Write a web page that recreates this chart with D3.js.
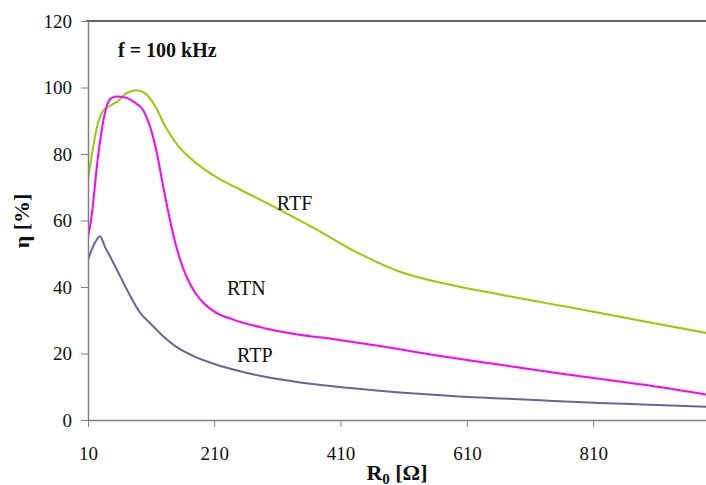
<!DOCTYPE html>
<html lang="en">
<head>
    <meta charset="UTF-8">
    <title>Efficiency vs R0</title>
    <script src="https://d3js.org/d3.v7.min.js"></script>
    <style>
        body { margin: 0; background: #fff; }
        svg text { font-family: "Liberation Serif", "Times New Roman", Tinos, "DejaVu Serif", "Noto Serif", serif !important; fill: #111; }
    </style>
</head>
<body>
<script>

    const width = 706;
    const height = 485;
    const margin = {top: 21, left: 88};

    // data (R0 in ohm, eta in %)
    const rtfR   = [10, 26, 34, 45, 58, 71, 87, 100, 116, 132, 153, 174, 195, 220, 250, 310, 370, 425, 504, 580, 663, 740, 821, 900, 1000];
    const rtfEta = [72.4, 89.4, 93, 94.5, 96, 98.3, 99.2, 98.3, 94.5, 88.4, 82.4, 78.4, 75.3, 72.3, 69.4, 63.6, 57.5, 51.5, 44.6, 40.8, 37.7, 35, 32.2, 29.3, 25.8];

    const rtnR   = [10, 15, 26, 37, 45, 55, 69, 84, 98, 108, 119, 129, 140, 150, 160, 170, 180, 195, 210, 240, 290, 340, 400, 480, 560, 663, 760, 840, 920, 1000];
    const rtnEta = [55, 60.3, 79.4, 92.5, 96.5, 97.3, 97, 95.5, 93, 88.4, 80.4, 70.3, 60, 52, 46, 41.5, 38.2, 34.8, 32.6, 30.2, 27.6, 25.8, 24.3, 22, 19.5, 16.6, 13.9, 11.9, 9.8, 7.3];

    const rtpR   = [10, 20, 29, 37, 45, 61, 75, 92, 110, 124, 150, 180, 203, 240, 282, 346, 420, 504, 580, 663, 740, 821, 900, 1000];
    const rtpEta = [48.2, 53, 55.3, 52, 49.2, 43.2, 38, 32.4, 28.8, 26.1, 22, 19, 17.3, 15.2, 13.3, 11.3, 9.7, 8.3, 7.3, 6.5, 5.8, 5.1, 4.6, 3.9];

    const seriesNames = ["RTF", "RTN", "RTP"];
    const seriesColors = ["#99cc00", "#ff00ff", "#666699"];
    // where each series name sits, in data units (R0, eta)
    const labelR = [309, 230, 246];
    const labelEta = [63.3, 37.7, 17.5];

    const xTicks = [10, 210, 410, 610, 810];
    const yTicks = [0, 20, 40, 60, 80, 100, 120];

    const series = [
        {name: "RTF", r: rtfR, eta: rtfEta, color: seriesColors[0]},
        {name: "RTN", r: rtnR, eta: rtnEta, color: seriesColors[1]},
        {name: "RTP", r: rtpR, eta: rtpEta, color: seriesColors[2]}
    ];

    const x = d3.scaleLinear().domain([10, 1000]).range([margin.left, margin.left + 990 * 0.6315]);
    const y = d3.scaleLinear().domain([0, 120]).range([420, margin.top]);

    const svg = d3.select("body").append("svg")
        .attr("width", width).attr("height", height);

    svg.append("defs").append("clipPath").attr("id", "plot")
        .append("rect")
        .attr("x", margin.left).attr("y", margin.top)
        .attr("width", width - margin.left).attr("height", 420 - margin.top);

    // top border of the plot box
    svg.append("line")
        .attr("x1", margin.left - 2).attr("x2", width)
        .attr("y1", y(120)).attr("y2", y(120))
        .attr("stroke", "#333").attr("stroke-width", 1.5);

    // curves
    const line = d3.line()
        .x(d => x(d[0]))
        .y(d => y(d[1]))
        .curve(d3.curveMonotoneX);

    svg.append("g").attr("clip-path", "url(#plot)")
        .selectAll("path")
        .data(series)
        .join("path")
        .attr("d", s => line(s.r.map((r, i) => [r, s.eta[i]])))
        .attr("fill", "none")
        .attr("stroke", s => s.color)
        .attr("stroke-width", 2);

    // y axis
    const yAxis = svg.append("g")
        .attr("transform", `translate(${margin.left},0)`)
        .call(d3.axisLeft(y).tickValues(yTicks).tickSize(7).tickSizeOuter(0).tickPadding(9));
    yAxis.select(".domain").attr("stroke", "#808080").attr("stroke-width", 1.5);
    yAxis.selectAll(".tick line").attr("stroke", "#808080");

    // x axis
    const xAxis = svg.append("g")
        .attr("transform", `translate(0,${y(0)})`)
        .call(d3.axisBottom(x).tickValues(xTicks).tickSize(7).tickSizeOuter(0).tickPadding(20));
    xAxis.select(".domain").attr("stroke", "#808080").attr("stroke-width", 1.5);
    xAxis.selectAll(".tick line").attr("stroke", "#808080");
    svg.selectAll(".tick text").style("font-size", "19px");

    // series labels
    svg.selectAll("text.lbl")
        .data(seriesNames)
        .join("text")
        .attr("class", "lbl")
        .attr("x", (d, i) => x(labelR[i]))
        .attr("y", (d, i) => y(labelEta[i]))
        .attr("font-size", 20)
        .text(d => d);

    svg.append("text")
        .attr("x", 118).attr("y", 57)
        .attr("font-size", 20).attr("font-weight", "bold")
        .text("f = 100 kHz");

    // axis titles
    const xt = svg.append("text")
        .attr("x", 397).attr("y", 480)
        .attr("text-anchor", "middle")
        .attr("font-size", 22).attr("font-weight", "bold");
    xt.append("tspan").text("R");
    xt.append("tspan").attr("font-size", 15).attr("dy", 4).text("0");
    xt.append("tspan").attr("dy", -4).text(" [Ω]");

    svg.append("text")
        .attr("transform", "translate(29,221) rotate(-90)")
        .attr("text-anchor", "middle")
        .attr("font-size", 22).attr("font-weight", "bold")
        .text("η [%]");

</script>
</body>
</html>
